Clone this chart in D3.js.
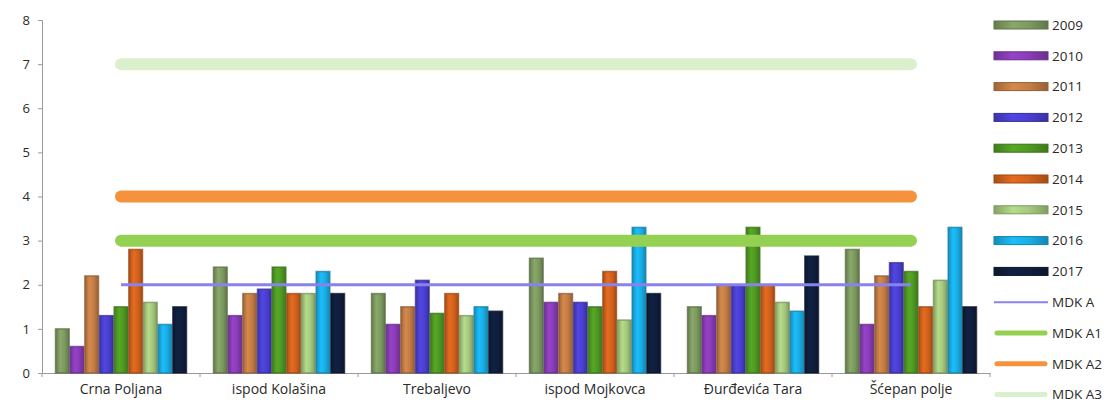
<!DOCTYPE html>
<html><head><meta charset="utf-8">
<script src="https://cdn.jsdelivr.net/npm/d3@7"></script>
<style>
html,body{margin:0;padding:0;background:#fff;}
svg{display:block;font-family:"Open Sans","Liberation Sans",sans-serif;}
</style></head>
<body>
<svg id="chart" width="1116" height="408"></svg>
<script>
const categories = ["Crna Poljana","ispod Kolašina","Trebaljevo","ispod Mojkovca","Đurđevića Tara","Šćepan polje"];
const years = ["2009","2010","2011","2012","2013","2014","2015","2016","2017"];
const v2009 = [1.0, 2.4, 1.8, 2.6, 1.5, 2.8];
const v2010 = [0.6, 1.3, 1.1, 1.6, 1.3, 1.1];
const v2011 = [2.2, 1.8, 1.5, 1.8, 2.0, 2.2];
const v2012 = [1.3, 1.9, 2.1, 1.6, 2.0, 2.5];
const v2013 = [1.5, 2.4, 1.35, 1.5, 3.3, 2.3];
const v2014 = [2.8, 1.8, 1.8, 2.3, 2.0, 1.5];
const v2015 = [1.6, 1.8, 1.3, 1.2, 1.6, 2.1];
const v2016 = [1.1, 2.3, 1.5, 3.3, 1.4, 3.3];
const v2017 = [1.5, 1.8, 1.4, 1.8, 2.65, 1.5];
const mdkA  = [2, 2, 2, 2, 2, 2];
const mdkA1 = [3, 3, 3, 3, 3, 3];
const mdkA2 = [4, 4, 4, 4, 4, 4];
const mdkA3 = [7, 7, 7, 7, 7, 7];
const yTicks = [0,1,2,3,4,5,6,7,8];

const barSeries = [v2009,v2010,v2011,v2012,v2013,v2014,v2015,v2016,v2017];
const barColors = ["#7d9a60","#8a3cb8","#c47d45","#4a3fd0","#4f9a22","#d2621c","#a6c97e","#19aee6","#0f1e3c"];
const lineNames = ["MDK A","MDK A1","MDK A2","MDK A3"];
const lineSeries = [mdkA, mdkA1, mdkA2, mdkA3];
const lineColors = ["#8a82ec","#94d052","#f6923e","#daefcc"];
const lineWidths = [3, 12, 12, 12];

(function(){
const svg = d3.select("#chart");
const mLeft = 42, mRight = 990, mTop = 20, mBottom = 373;
const txt = "#2a2a2a";

const x0 = d3.scaleBand().domain(categories).range([mLeft, mRight]).padding(0);
const x1 = d3.scaleBand().domain(years).range([13, x0.bandwidth() - 13]).padding(0);
const y = d3.scaleLinear().domain([0, 8]).range([mBottom, mTop]);

const defs = svg.append("defs");
barColors.forEach((c, i) => {
  const g = defs.append("linearGradient").attr("id", "g" + i).attr("x1", "0").attr("x2", "1").attr("y1", "0").attr("y2", "0");
  const base = d3.color(c);
  g.append("stop").attr("offset", "0%").attr("stop-color", base.darker(0.6));
  g.append("stop").attr("offset", "35%").attr("stop-color", base.brighter(0.25));
  g.append("stop").attr("offset", "65%").attr("stop-color", base);
  g.append("stop").attr("offset", "100%").attr("stop-color", base.darker(0.7));
});

// y axis
const yAxis = svg.append("g").attr("transform", `translate(${mLeft},0)`)
  .call(d3.axisLeft(y).tickValues(yTicks).tickSize(4).tickFormat(d3.format("d")));
yAxis.select(".domain").attr("stroke", "#9a9a9a");
yAxis.selectAll(".tick line").attr("stroke", "#9a9a9a");
yAxis.selectAll(".tick text").attr("font-size", 13).attr("fill", txt).attr("x", -12)
  .attr("font-family", "Open Sans, Liberation Sans, sans-serif");

// x axis
const xAxis = svg.append("g").attr("transform", `translate(0,${mBottom})`)
  .call(d3.axisBottom(x0).tickSize(0).tickPadding(11));
xAxis.select(".domain").attr("stroke", "#9a9a9a");
xAxis.selectAll(".tick text").attr("font-size", 14).attr("fill", txt)
  .attr("font-family", "Open Sans, Liberation Sans, sans-serif");
const bounds = categories.map(c => x0(c)).concat([mRight]);
svg.append("g").selectAll("line").data(bounds).join("line")
  .attr("x1", d => d).attr("x2", d => d).attr("y1", mBottom).attr("y2", mBottom + 4)
  .attr("stroke", "#9a9a9a");

// bars
const groups = svg.append("g").selectAll("g").data(categories).join("g")
  .attr("transform", d => `translate(${x0(d)},0)`);
groups.each(function(cat, ci) {
  d3.select(this).selectAll("rect").data(years).join("rect")
    .attr("x", yr => x1(yr) + 0.5)
    .attr("width", x1.bandwidth() - 1)
    .attr("y", (yr, si) => y(barSeries[si][ci]))
    .attr("height", (yr, si) => mBottom - y(barSeries[si][ci]))
    .attr("fill", (yr, si) => `url(#g${si})`)
    .attr("stroke", (yr, si) => d3.color(barColors[si]).darker(1.0))
    .attr("stroke-opacity", 0.7)
    .attr("stroke-width", 1.5);
});

// MDK lines
const lineGen = d3.line().x((d, i) => x0(categories[i]) + x0.bandwidth() / 2).y(d => y(d));
[3, 2, 1, 0].forEach(li => {
  svg.append("path").datum(lineSeries[li])
    .attr("d", lineGen)
    .attr("fill", "none")
    .attr("stroke", lineColors[li])
    .attr("stroke-width", lineWidths[li])
    .attr("stroke-linecap", li === 0 ? "butt" : "round");
});

// legend
const leg = svg.append("g").attr("transform", "translate(994,25)");
const allNames = years.concat(lineNames);
allNames.forEach((n, i) => {
  const gy = i * 30.8;
  const g = leg.append("g").attr("transform", `translate(0,${gy})`);
  if (i < years.length) {
    g.append("rect").attr("x", 0).attr("y", -4).attr("width", 54).attr("height", 8)
      .attr("fill", `url(#g${i})`).attr("stroke", d3.color(barColors[i]).darker(0.8)).attr("stroke-width", 1);
  } else {
    const li = i - years.length;
    g.append("line").attr("x1", li === 0 ? 0 : 3).attr("x2", li === 0 ? 54 : 51).attr("y1", 0).attr("y2", 0)
      .attr("stroke", lineColors[li]).attr("stroke-width", li === 0 ? 2 : 5)
      .attr("stroke-linecap", li === 0 ? "butt" : "round");
  }
  g.append("text").attr("x", 58).attr("y", 0).attr("dy", "0.35em")
    .attr("font-size", 13.5).attr("fill", txt).text(n);
});
})();
</script>
</body></html>
